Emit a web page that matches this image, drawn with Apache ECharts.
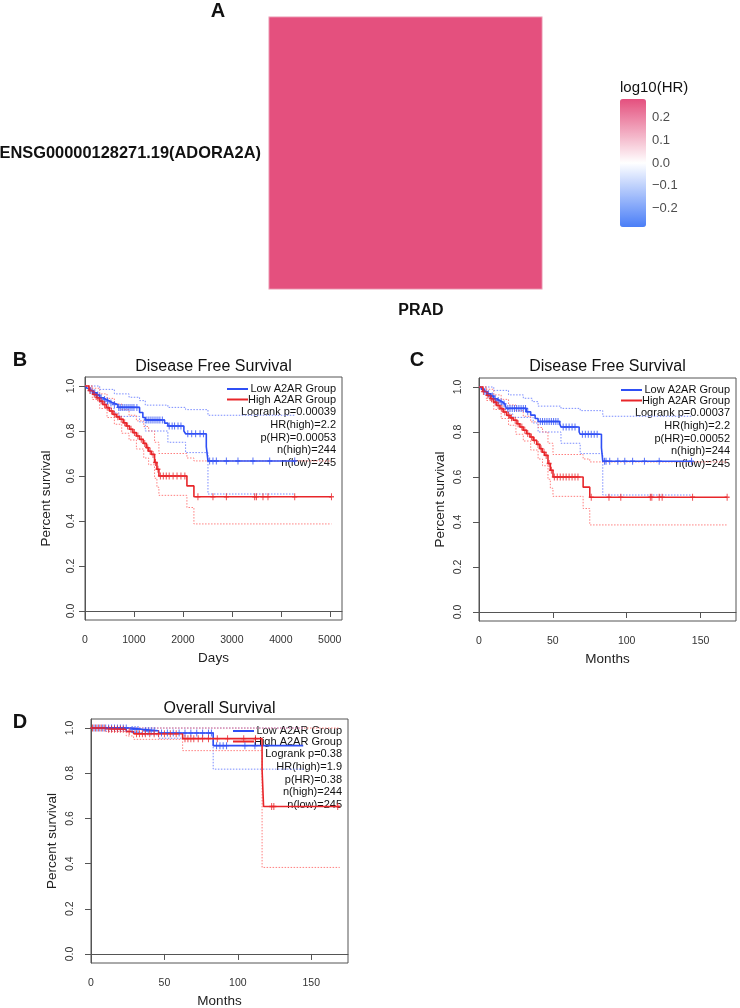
<!DOCTYPE html>
<html><head><meta charset="utf-8">
<script src="https://cdn.jsdelivr.net/npm/echarts@6/dist/echarts.min.js"></script>
<style>html,body{margin:0;padding:0;background:#fff}#c{width:740px;height:1008px}</style>
</head><body><div id="c"></div><script>
// ---------- Panel A data ----------
const geneLabels = ['ENSG00000128271.19(ADORA2A)'];
const cancerTypes = ['PRAD'];
const log10HR = [[0, 0, 0.342]];
const colorbarTicks = [-0.2, -0.1, 0, 0.1, 0.2];

// ---------- Panel B (Disease Free Survival, days) ----------
const lowB = [[0,1],[40,0.99],[100,0.98],[170,0.97],[240,0.96],[300,0.948],[370,0.94],[433,0.933],[500,0.925],[570,0.918],[671,0.905],[1115,0.882],[1182,0.86],[1231,0.849],[1626,0.835],[1693,0.822],[2020,0.80],[2055,0.788],[2478,0.73],[2512,0.667],[4284,0.667]];
const highB = [[0,1],[80,0.98],[160,0.963],[230,0.948],[297,0.933],[365,0.918],[433,0.904],[500,0.889],[570,0.874],[640,0.863],[706,0.852],[780,0.837],[842,0.822],[910,0.808],[978,0.793],[1050,0.778],[1115,0.763],[1190,0.745],[1251,0.726],[1300,0.71],[1353,0.696],[1421,0.66],[1469,0.63],[1510,0.60],[2082,0.556],[2225,0.508],[5035,0.508]];
const lowUpB = [[0,1],[300,0.985],[600,0.965],[900,0.95],[1115,0.935],[1231,0.915],[1693,0.905],[2055,0.895],[2512,0.87],[4284,0.87]];
const lowLoB = [[0,1],[150,0.97],[300,0.925],[450,0.9],[600,0.88],[700,0.865],[1115,0.84],[1231,0.80],[1693,0.75],[2055,0.704],[2512,0.52],[4284,0.52]];
const highUpB = [[0,1],[150,0.99],[300,0.965],[450,0.945],[600,0.92],[750,0.895],[900,0.87],[1050,0.845],[1200,0.82],[1300,0.80],[1421,0.75],[1510,0.70],[2082,0.68],[2225,0.667],[5035,0.667]];
const highLoB = [[0,1],[150,0.94],[300,0.9],[450,0.86],[600,0.83],[750,0.79],[900,0.76],[1050,0.72],[1200,0.68],[1300,0.65],[1421,0.59],[1469,0.55],[1510,0.514],[2082,0.46],[2225,0.387],[5035,0.387]];
const lowCensB = [[120,0.98],[200,0.97],[260,0.96],[330,0.948],[400,0.94],[460,0.933],[530,0.925],[600,0.918],[690,0.905],[720,0.905],[760,0.905],[800,0.905],[840,0.905],[880,0.905],[920,0.905],[960,0.905],[1000,0.905],[1060,0.905],[1250,0.849],[1290,0.849],[1330,0.849],[1370,0.849],[1410,0.849],[1450,0.849],[1490,0.849],[1530,0.849],[1580,0.849],[1720,0.822],[1780,0.822],[1830,0.822],[1900,0.822],[1960,0.822],[2100,0.788],[2180,0.788],[2260,0.788],[2350,0.788],[2420,0.788],[2546,0.667],[2614,0.667],[2683,0.667],[2888,0.667],[3125,0.667],[3431,0.667],[3773,0.667],[4284,0.667]];
const highCensB = [[100,0.98],[190,0.963],[260,0.948],[330,0.933],[400,0.918],[470,0.904],[540,0.889],[600,0.874],[670,0.863],[740,0.852],[810,0.837],[870,0.822],[940,0.808],[1010,0.793],[1080,0.778],[1150,0.763],[1220,0.745],[1280,0.726],[1330,0.71],[1390,0.696],[1440,0.66],[1490,0.63],[1540,0.60],[1600,0.60],[1660,0.60],[1720,0.60],[1800,0.60],[1880,0.60],[1960,0.60],[2040,0.60],[2307,0.508],[2614,0.508],[2888,0.508],[3466,0.508],[3501,0.508],[3636,0.508],[3738,0.508],[4284,0.508],[5035,0.508]];
const statsB = ['Logrank p=0.00039','HR(high)=2.2','p(HR)=0.00053','n(high)=244','n(low)=245'];

// ---------- Panel C (Disease Free Survival, months) ----------
const lowC = [[0,1],[1.5,0.99],[3.5,0.98],[5.5,0.97],[8,0.96],[10,0.948],[12,0.94],[14,0.933],[16,0.925],[17.5,0.918],[18.5,0.905],[32,0.89],[35,0.875],[38,0.86],[40,0.847],[54.7,0.835],[55.5,0.822],[67.8,0.80],[68.5,0.79],[82.9,0.73],[83.8,0.67],[143.9,0.67]];
const highC = [[0,1],[2.6,0.98],[5.3,0.963],[7.6,0.948],[9.8,0.933],[12,0.918],[14.2,0.904],[16.4,0.889],[18.8,0.874],[21,0.863],[23.2,0.852],[25.7,0.837],[27.7,0.822],[29.9,0.808],[32.2,0.793],[34.5,0.778],[36.7,0.763],[39.1,0.745],[41.2,0.726],[42.8,0.71],[44.5,0.696],[46.7,0.66],[48.3,0.63],[50.1,0.60],[70.5,0.555],[75,0.51],[168,0.51]];
const lowUpC = [[0,1],[10,0.985],[20,0.965],[30,0.95],[36,0.935],[40,0.915],[55.5,0.905],[68.5,0.895],[83.8,0.87],[143.9,0.87]];
const lowLoC = [[0,1],[5,0.97],[10,0.925],[15,0.9],[20,0.88],[23,0.865],[36.7,0.84],[40,0.80],[55.5,0.75],[68.5,0.704],[83.8,0.52],[143.9,0.52]];
const highUpC = [[0,1],[5,0.99],[10,0.965],[15,0.945],[20,0.92],[25,0.895],[30,0.87],[35,0.845],[40,0.82],[43,0.80],[46.7,0.75],[50.1,0.70],[70.5,0.68],[75,0.667],[168,0.667]];
const highLoC = [[0,1],[5,0.94],[10,0.9],[15,0.86],[20,0.83],[25,0.79],[30,0.76],[35,0.72],[40,0.68],[43,0.65],[46.7,0.59],[48.3,0.55],[50.1,0.514],[70.5,0.46],[75,0.387],[168,0.387]];
const lowCensC = [[4,0.98],[6.5,0.97],[9,0.96],[11,0.948],[13,0.94],[15,0.933],[17,0.925],[19.5,0.905],[21,0.905],[22.5,0.905],[24,0.905],[25.5,0.905],[27,0.905],[28.5,0.905],[30,0.905],[31.5,0.905],[33,0.89],[41.5,0.847],[43,0.847],[44.5,0.847],[46,0.847],[47.5,0.847],[49,0.847],[50.5,0.847],[52,0.847],[53.5,0.847],[57,0.822],[59,0.822],[61,0.822],[63,0.822],[65,0.822],[70,0.79],[72,0.79],[74,0.79],[76,0.79],[78,0.79],[80,0.79],[85,0.67],[86,0.67],[88.5,0.67],[94,0.67],[98.7,0.67],[104,0.67],[112,0.67],[122,0.67],[143.9,0.67]];
const highCensC = [[3,0.98],[6,0.963],[8.5,0.948],[11,0.933],[13,0.918],[15.5,0.904],[17.5,0.889],[20,0.874],[22,0.863],[24.5,0.852],[26.5,0.837],[29,0.822],[31,0.808],[33,0.793],[35.5,0.778],[37.5,0.763],[40,0.745],[42,0.726],[44,0.71],[45.5,0.696],[47.5,0.66],[49,0.63],[51,0.60],[53,0.60],[55,0.60],[57,0.60],[59,0.60],[61,0.60],[63,0.60],[65,0.60],[67,0.60],[76,0.51],[88,0.51],[96,0.51],[116,0.51],[117,0.51],[122,0.51],[124,0.51],[144.6,0.51],[168,0.51]];
const statsC = ['Logrank p=0.00037','HR(high)=2.2','p(HR)=0.00052','n(high)=244','n(low)=245'];

// ---------- Panel D (Overall Survival, months) ----------
const lowD = [[0,1],[27,0.994],[35,0.988],[46,0.978],[83.2,0.922],[144.5,0.922]];
const highD = [[0,1],[10,0.995],[24,0.985],[29,0.975],[62.4,0.953],[116.5,0.815],[117.5,0.653],[169.4,0.653]];
const lowUpD = [[0,1],[144.5,1]];
const lowLoD = [[0,1],[27,0.98],[35,0.97],[46,0.955],[83.2,0.818],[144.5,0.818]];
const highUpD = [[0,1],[169.4,1]];
const highLoD = [[0,1],[10,0.985],[24,0.965],[29,0.95],[62.4,0.90],[116.5,0.383],[169.4,0.383]];
const lowCensD = [[2,1],[4,1],[6,1],[8,1],[10,1],[12,1],[14,1],[16,1],[18,1],[20,1],[22,1],[24,1],[28,0.994],[30,0.994],[32,0.994],[37,0.988],[39,0.988],[41,0.988],[43,0.988],[48,0.978],[52,0.978],[56,0.978],[60,0.978],[64,0.978],[68,0.978],[72,0.978],[76,0.978],[80,0.978],[82,0.978],[85.5,0.922],[87.8,0.922],[90,0.922],[92.3,0.922],[104.8,0.922],[111.6,0.922]];
const highCensD = [[1,1],[3,1],[5,1],[7,1],[9,1],[12,0.995],[14,0.995],[16,0.995],[18,0.995],[20,0.995],[22,0.995],[26,0.985],[31,0.975],[33,0.975],[35,0.975],[37,0.975],[40,0.975],[43,0.975],[46,0.975],[50,0.975],[54,0.975],[58,0.975],[64,0.953],[66,0.953],[68,0.953],[70,0.953],[73,0.953],[76,0.953],[80,0.953],[86,0.953],[93,0.953],[104,0.953],[112,0.953],[123,0.653],[124.5,0.653],[168,0.653]];
const statsD = ['Logrank p=0.38','HR(high)=1.9','p(HR)=0.38','n(high)=244','n(low)=245'];

const groupNames = ['Low A2AR Group', 'High A2AR Group'];
const xTicksDays = [0, 1000, 2000, 3000, 4000, 5000];
const xTicksMonths = [0, 50, 100, 150];
const yTicks = [0, 0.2, 0.4, 0.6, 0.8, 1.0];

// ---------- styling ----------
const FONT = '"Liberation Sans", Arial, Helvetica, sans-serif';
const BLUE = '#2f4ff5', RED = '#e8262a';
const BLUE_CI = '#7a8cff', RED_CI = '#ff7f7f';
const AXIS_C = '#555';
const PLUS = 'path://M4,0h2v10h-2z M0,4h10v2h-10z';

function kmX(gi, max, ticks, name) {
  return {gridIndex: gi, type: 'value', min: 0, max: max,
    name: name, nameLocation: 'middle', nameGap: 31,
    nameTextStyle: {fontSize: 13.5, color: '#222', fontFamily: FONT},
    axisLine: {show: true, lineStyle: {color: AXIS_C, width: 1}},
    axisTick: {show: true, length: 6, customValues: ticks, lineStyle: {color: AXIS_C}},
    axisLabel: {customValues: ticks, fontSize: 10.5, color: '#333', margin: 15, fontFamily: FONT,
      formatter: v => String(Math.round(v))},
    splitLine: {show: false}};
}
function kmY(gi, margin) {
  return {gridIndex: gi, type: 'value', min: -0.04, max: 1.04,
    name: 'Percent survival', nameLocation: 'middle', nameGap: 32,
    nameTextStyle: {fontSize: 13.5, color: '#222', fontFamily: FONT},
    axisLine: {show: true, lineStyle: {color: AXIS_C, width: 1}},
    axisTick: {show: true, length: 6, customValues: yTicks, lineStyle: {color: AXIS_C}},
    axisLabel: {customValues: yTicks, rotate: 90, fontSize: 10.5, color: '#333', margin: margin, fontFamily: FONT,
      formatter: v => v.toFixed(1)},
    splitLine: {show: false}};
}
function stepLine(gi, data, color, width, dotted, z) {
  return {type: 'line', xAxisIndex: gi, yAxisIndex: gi, data: data, step: 'end', showSymbol: false, symbol: 'none',
    silent: true, z: z, lineStyle: {color: color, width: width, type: dotted ? [1.5, 1.5] : 'solid'}};
}
function censor(gi, data, color, z) {
  return {type: 'scatter', xAxisIndex: gi, yAxisIndex: gi, data: data, symbol: PLUS, symbolSize: [5, 7],
    silent: true, z: z, itemStyle: {color: color}};
}
function kmSeries(gi, low, high, lowUp, lowLo, highUp, highLo, lowCens, highCens) {
  return [
    stepLine(gi, lowUp, BLUE_CI, 1, true, 2), stepLine(gi, lowLo, BLUE_CI, 1, true, 2),
    stepLine(gi, highUp, RED_CI, 1, true, 2), stepLine(gi, highLo, RED_CI, 1, true, 2),
    Object.assign(stepLine(gi, low, BLUE, 1.6, false, 3), {name: groupNames[0]}),
    Object.assign(stepLine(gi, high, RED, 1.6, false, 4), {name: groupNames[1]}),
    censor(gi, lowCens, BLUE, 5), censor(gi, highCens, RED, 6)
  ];
}

const boxes = [
  {left: 85, top: 377, width: 257, height: 243},
  {left: 479, top: 378, width: 257, height: 243},
  {left: 91, top: 719, width: 257, height: 244}
];

function legendGraphics(box, stats) {
  const right = box.left + box.width;
  const out = [];
  const rows = [12, 22.5, 35, 47.5, 60.5, 73, 86];
  const texts = groupNames.concat(stats);
  texts.forEach((t, i) => {
    out.push({type: 'text', x: right - 6, y: box.top + rows[i], silent: true,
      style: {text: t, fill: '#111', font: '11px ' + FONT, textAlign: 'right', textVerticalAlign: 'middle'}});
  });
  out.push({type: 'line', silent: true, shape: {x1: right - 115, y1: box.top + rows[0], x2: right - 94, y2: box.top + rows[0]}, style: {stroke: BLUE, lineWidth: 2}});
  out.push({type: 'line', silent: true, shape: {x1: right - 115, y1: box.top + rows[1], x2: right - 94, y2: box.top + rows[1]}, style: {stroke: RED, lineWidth: 2}});
  return out;
}
function txt(x, y, s, font, align) {
  return {type: 'text', x: x, y: y, silent: true, style: {text: s, font: font, fill: '#111', textAlign: align || 'center', textVerticalAlign: 'middle'}};
}

const graphics = [
  txt(218, 11, 'A', 'bold 20px ' + FONT),
  txt(20, 360, 'B', 'bold 20px ' + FONT),
  txt(417, 360, 'C', 'bold 20px ' + FONT),
  txt(20, 722, 'D', 'bold 20px ' + FONT),
  txt(213.5, 367, 'Disease Free Survival', '16px ' + FONT),
  txt(607.5, 367, 'Disease Free Survival', '16px ' + FONT),
  txt(219.5, 709, 'Overall Survival', '16px ' + FONT),
  txt(620, 88, 'log10(HR)', '15px ' + FONT, 'left')
].concat(legendGraphics(boxes[0], statsB), legendGraphics(boxes[1], statsC), legendGraphics(boxes[2], statsD));

const gridBox = b => Object.assign({show: true, borderColor: AXIS_C, borderWidth: 1, backgroundColor: 'transparent', outerBoundsMode: 'none'}, b);

const option = {
  animation: false,
  backgroundColor: '#fff',
  textStyle: {fontFamily: FONT},
  grid: [
    {left: 269, top: 17, width: 273, height: 272, outerBoundsMode: 'none'},
    gridBox(boxes[0]), gridBox(boxes[1]), gridBox(boxes[2]),
    {left: 620, top: 99, width: 26, height: 128, outerBoundsMode: 'none'}
  ],
  xAxis: [
    {gridIndex: 0, type: 'category', data: cancerTypes, axisLine: {show: false}, axisTick: {show: false},
      axisLabel: {fontWeight: 'bold', fontSize: 16, color: '#111', margin: 14, padding: [0, 0, 0, 31], fontFamily: FONT}},
    kmX(1, 5250, xTicksDays, 'Days'),
    kmX(2, 174, xTicksMonths, 'Months'),
    kmX(3, 175, xTicksMonths, 'Months'),
    {gridIndex: 4, type: 'value', show: false, min: 0, max: 1}
  ],
  yAxis: [
    {gridIndex: 0, type: 'category', data: geneLabels, axisLine: {show: false}, axisTick: {show: false},
      axisLabel: {fontWeight: 'bold', fontSize: 16.4, color: '#111', margin: 8, fontFamily: FONT}},
    kmY(1, 8), kmY(2, 15), kmY(3, 15),
    {gridIndex: 4, type: 'value', position: 'right', min: -0.28, max: 0.28, z: 10,
      axisLine: {show: false}, splitLine: {show: false},
      axisTick: {show: true, inside: true, length: 5, customValues: colorbarTicks, lineStyle: {color: 'rgba(255,255,255,0.8)'}},
      axisLabel: {customValues: colorbarTicks, margin: 6, fontSize: 13, color: '#4d4d4d', fontFamily: FONT,
        formatter: v => (v < -1e-9 ? '\u2212' : '') + Math.abs(v).toFixed(1)}}
  ],
  visualMap: [{
    type: 'continuous', seriesIndex: 0, min: -0.28, max: 0.28, calculable: false, orient: 'vertical',
    left: 620, top: 99, itemWidth: 26, itemHeight: 128, padding: 0, text: null, showLabel: false,
    inRange: {color: ['#4a7ef7', '#ffffff', '#e4507e']}
  }],
  graphic: graphics,
  series: [
    {type: 'heatmap', xAxisIndex: 0, yAxisIndex: 0, data: log10HR, silent: true,
      itemStyle: {borderColor: '#f3c9d6', borderWidth: 1}}
  ].concat(
    kmSeries(1, lowB, highB, lowUpB, lowLoB, highUpB, highLoB, lowCensB, highCensB),
    kmSeries(2, lowC, highC, lowUpC, lowLoC, highUpC, highLoC, lowCensC, highCensC),
    kmSeries(3, lowD, highD, lowUpD, lowLoD, highUpD, highLoD, lowCensD, highCensD)
  )
};

const chart = echarts.init(document.getElementById('c'), null, {renderer: 'canvas'});
chart.setOption(option);
</script></body></html>
